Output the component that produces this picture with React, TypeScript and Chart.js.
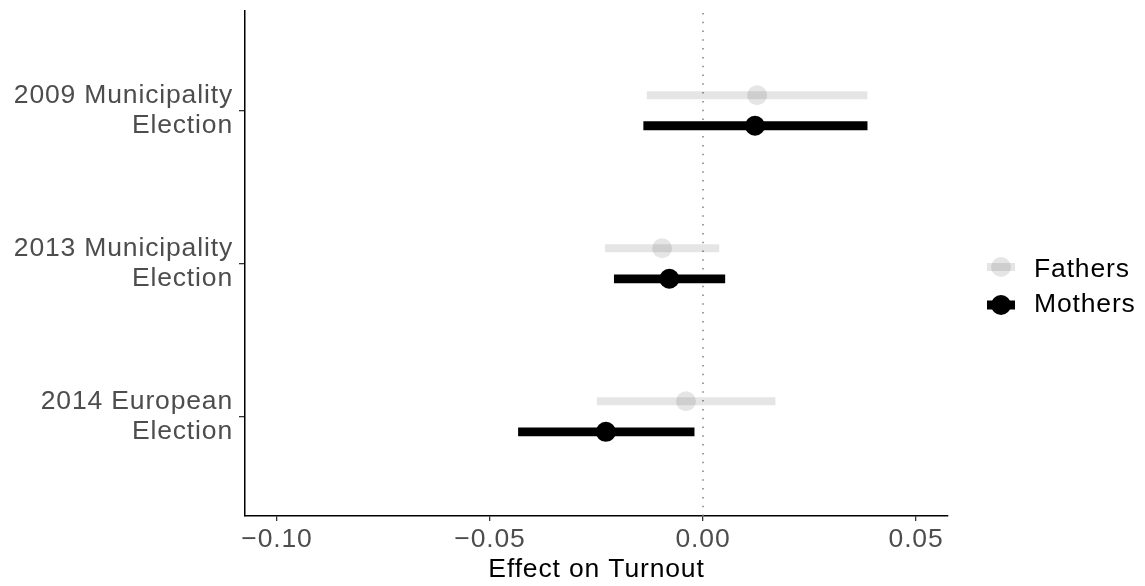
import React, { useEffect, useRef } from 'react';
import { Chart, registerables } from 'chart.js';

Chart.register(...registerables);

// ---- data ----
const categories: string[][] = [
  ['2009 Municipality', 'Election'],
  ['2013 Municipality', 'Election'],
  ['2014 European', 'Election'],
];
const categoryPositions = [3, 2, 1];
const seriesNames = ['Fathers', 'Mothers'];

const fathersEst = [0.0127, -0.0096, -0.004];
const fathersLo = [-0.0132, -0.023, -0.0249];
const fathersHi = [0.0386, 0.0038, 0.017];

const mothersEst = [0.0122, -0.0079, -0.0228];
const mothersLo = [-0.014, -0.0209, -0.0434];
const mothersHi = [0.0386, 0.0052, -0.002];

const xTicks = [-0.1, -0.05, 0, 0.05];
const xTickLabels = ['\u22120.10', '\u22120.05', '0.00', '0.05'];
const xTitle = 'Effect on Turnout';
const referenceLineX = 0;

// ---- style ----
const FONT = "'Liberation Sans', Arial, Helvetica, sans-serif";
const FONT_SIZE = 26.5;
const LETTER_SPACING = '0.85px';
const DODGE = 0.1;
const FATHERS_COLOR = 'rgba(0,0,0,0.1)';
const MOTHERS_COLOR = '#000000';
const X_MIN = -0.1075;
const X_MAX = 0.0575;
const Y_MIN = 0.35;
const Y_MAX = 3.65;

function seriesDatasets(
  est: number[],
  lo: number[],
  hi: number[],
  offset: number,
  color: string,
  lw: number,
  label: string
) {
  const points = {
    label,
    data: categoryPositions.map((c, i) => ({ x: est[i], y: c + offset })),
    pointRadius: 10,
    pointBackgroundColor: color,
    pointBorderWidth: 0,
    showLine: false,
  };
  const lines = categoryPositions.map((c, i) => ({
    label: label + ' CI ' + i,
    data: [
      { x: lo[i], y: c + offset },
      { x: hi[i], y: c + offset },
    ],
    showLine: true,
    borderColor: color,
    borderWidth: lw,
    borderCapStyle: 'butt',
    pointRadius: 0,
  }));
  return { points, lines };
}

const spacingPlugin = {
  id: 'letterSpacing',
  beforeUpdate(chart: any) {
    chart.ctx.letterSpacing = LETTER_SPACING;
  },
  beforeLayout(chart: any) {
    chart.ctx.letterSpacing = LETTER_SPACING;
  },
  beforeDraw(chart: any) {
    chart.ctx.letterSpacing = LETTER_SPACING;
  },
};

const legendPlugin = {
  id: 'customLegend',
  afterDraw(chart: any) {
    const ctx = chart.ctx;
    const items = [
      { label: seriesNames[0], color: FATHERS_COLOR, lw: 8, cy: 267, base: 276.7 },
      { label: seriesNames[1], color: MOTHERS_COLOR, lw: 9, cy: 305, base: 311.7 },
    ];
    ctx.save();
    ctx.letterSpacing = LETTER_SPACING;
    items.forEach((it) => {
      ctx.strokeStyle = it.color;
      ctx.lineWidth = it.lw;
      ctx.lineCap = 'butt';
      ctx.beginPath();
      ctx.moveTo(987, it.cy);
      ctx.lineTo(1015, it.cy);
      ctx.stroke();
      ctx.beginPath();
      ctx.arc(1001, it.cy, 10, 0, Math.PI * 2);
      ctx.fillStyle = it.color;
      ctx.fill();
      ctx.fillStyle = '#000';
      ctx.font = `${FONT_SIZE}px ${FONT}`;
      ctx.textAlign = 'left';
      ctx.textBaseline = 'alphabetic';
      ctx.fillText(it.label, 1034, it.base);
    });
    ctx.restore();
  },
};

export default function App() {
  const canvasRef = useRef<HTMLCanvasElement | null>(null);

  useEffect(() => {
    if (!canvasRef.current) return;
    const fathers = seriesDatasets(fathersEst, fathersLo, fathersHi, DODGE, FATHERS_COLOR, 8, seriesNames[0]);
    const mothers = seriesDatasets(mothersEst, mothersLo, mothersHi, -DODGE, MOTHERS_COLOR, 8.8, seriesNames[1]);
    const refLine = {
      label: 'zero',
      data: [
        { x: referenceLineX, y: Y_MIN },
        { x: referenceLineX, y: Y_MAX },
      ],
      showLine: true,
      borderColor: '#808080',
      borderWidth: 1.5,
      borderDash: [1.5, 7.3],
      pointRadius: 0,
    };

    const chart = new Chart(canvasRef.current, {
      type: 'scatter',
      data: {
        datasets: [
          mothers.points,
          ...mothers.lines,
          fathers.points,
          ...fathers.lines,
          refLine,
        ] as any,
      },
      options: {
        animation: false,
        responsive: false,
        maintainAspectRatio: false,
        events: [],
        layout: { padding: { top: 11, right: 197, left: 0, bottom: 0 } },
        plugins: {
          legend: { display: false },
          tooltip: { enabled: false },
        },
        scales: {
          x: {
            type: 'linear',
            min: X_MIN,
            max: X_MAX,
            afterBuildTicks: (s: any) => {
              s.ticks = xTicks.map((v) => ({ value: v }));
            },
            afterFit: (s: any) => {
              s.height = 70;
              s.paddingLeft = 0;
              s.paddingRight = 0;
            },
            ticks: {
              callback: (_v: any, i: number) => xTickLabels[i],
              font: { family: FONT, size: FONT_SIZE },
              color: '#4d4d4d',
              padding: 3,
              maxRotation: 0,
              autoSkip: false,
            },
            grid: {
              drawOnChartArea: false,
              drawTicks: true,
              tickLength: 5,
              color: '#333333',
              lineWidth: 1.3,
            },
            border: { display: true, color: '#000', width: 1.5 },
            title: {
              display: true,
              text: xTitle,
              font: { family: FONT, size: FONT_SIZE },
              color: '#000',
              padding: { top: 0, bottom: 0 },
            },
          },
          y: {
            type: 'linear',
            min: Y_MIN,
            max: Y_MAX,
            afterBuildTicks: (s: any) => {
              s.ticks = categoryPositions.map((v) => ({ value: v }));
            },
            afterFit: (s: any) => {
              s.width = 245;
              s.paddingTop = 0;
              s.paddingBottom = 0;
            },
            ticks: {
              callback: (v: any) => categories[categoryPositions.indexOf(v)] as any,
              font: { family: FONT, size: FONT_SIZE, lineHeight: 1.15 },
              color: '#4d4d4d',
              padding: 6,
              autoSkip: false,
            },
            grid: {
              drawOnChartArea: false,
              drawTicks: true,
              tickLength: 6,
              color: '#333333',
              lineWidth: 1.3,
            },
            border: { display: true, color: '#000', width: 1.5 },
          },
        },
      } as any,
      plugins: [spacingPlugin, legendPlugin],
    });
    return () => chart.destroy();
  }, []);

  return (
    <div style={{ position: 'absolute', left: 0, top: 0, width: 1145, height: 586, background: '#fff' }}>
      <canvas ref={canvasRef} width={1145} height={586} style={{ display: 'block' }} />
    </div>
  );
}
